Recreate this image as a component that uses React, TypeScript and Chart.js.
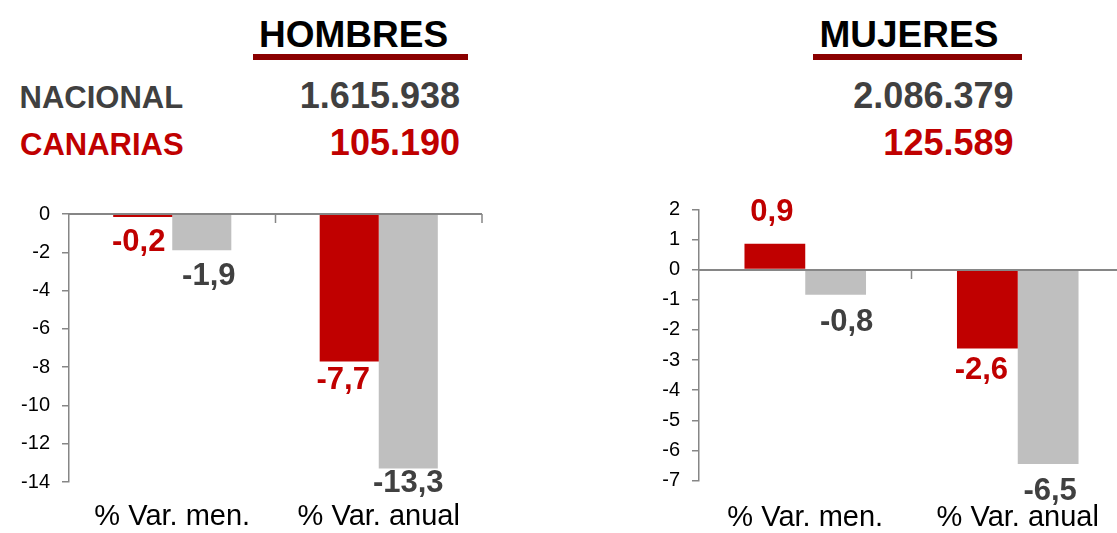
import React, { useEffect, useRef } from 'react';
import { Chart, registerables } from 'chart.js';

Chart.register(...registerables);

const FONT = '"Liberation Sans", Arial, Helvetica, sans-serif';
const RED = '#C00000';
const GRAY = '#BFBFBF';
const DARK = '#404040';
const AXIS = '#868686';
const UNDERLINE = '#8B0000';

// ---- data ----
const categories = ['% Var. men.', '% Var. anual'];
const panelTitles = ['HOMBRES', 'MUJERES'];
const rowLabels = ['NACIONAL', 'CANARIAS'];
const nacionalTotals = ['1.615.938', '2.086.379'];
const canariasTotals = ['105.190', '125.589'];
const hombresCanarias = [-0.16, -7.7];
const hombresNacional = [-1.9, -13.3];
const mujeresCanarias = [0.86, -2.62];
const mujeresNacional = [-0.83, -6.45];
const hombresTicks = [-14, 0, 2];
const mujeresTicks = [-7, 2, 1];

// label nudges [dx, dy] relative to bar end (styling only)
const hombresNudges = [
  [[-4, 25], [-6, 19]],
  [[7, 26], [0, 14.5]],
];
const mujeresNudges = [
  [[-3, -31], [-6, 22]],
  [[11, 28], [2, 27]],
];

const overlayPlugin = {
  id: 'overlay',
  afterDatasetsDraw(chart: any, _args: any, opts: any) {
    const { ctx, chartArea } = chart;
    const xs = chart.scales.x;
    const ys = chart.scales.y;
    const y0 = Math.round(ys.getPixelForValue(0));
    ctx.save();
    ctx.strokeStyle = AXIS;
    ctx.lineWidth = 2;
    ctx.beginPath();
    ctx.moveTo(chartArea.left, y0);
    ctx.lineTo(chartArea.right, y0);
    ctx.stroke();
    const n = chart.data.labels.length;
    ctx.lineWidth = 1.5;
    ctx.beginPath();
    const w = xs.getPixelForValue(1) - xs.getPixelForValue(0);
    for (let i = 0; i < n; i++) {
      const px = xs.getPixelForValue(i) + w / 2;
      ctx.moveTo(px, y0);
      ctx.lineTo(px, y0 + 9);
    }
    ctx.stroke();

    ctx.font = `bold 31px ${FONT}`;
    ctx.textAlign = 'center';
    ctx.textBaseline = 'middle';
    chart.data.datasets.forEach((ds: any, di: number) => {
      const meta = chart.getDatasetMeta(di);
      meta.data.forEach((bar: any, i: number) => {
        const v = ds.data[i] as number;
        const [dx, dy] = opts.nudges[di][i];
        ctx.fillStyle = opts.colors[di];
        ctx.fillText(v.toFixed(1).replace('.', ','), bar.x + dx, bar.y + dy);
      });
    });
    ctx.restore();
  },
};

type PanelProps = {
  left: number;
  top: number;
  width: number;
  height: number;
  yAxisWidth: number;
  padTop: number;
  padRight: number;
  xAxisHeight: number;
  xTickPadding: number;
  ticks: number[];
  canarias: number[];
  nacional: number[];
  nudges: number[][][];
};

function BarPanel(p: PanelProps) {
  const ref = useRef<HTMLCanvasElement | null>(null);
  useEffect(() => {
    if (!ref.current) return;
    const [min, max, step] = p.ticks;
    const chart = new Chart(ref.current, {
      type: 'bar',
      data: {
        labels: categories,
        datasets: [
          {
            data: p.canarias,
            backgroundColor: RED,
            borderWidth: 0,
            categoryPercentage: 0.572,
            barPercentage: 1,
          },
          {
            data: p.nacional,
            backgroundColor: GRAY,
            borderWidth: 0,
            categoryPercentage: 0.572,
            barPercentage: 1,
          },
        ],
      },
      options: {
        animation: false,
        responsive: false,
        maintainAspectRatio: false,
        devicePixelRatio: 1,
        layout: { padding: { left: 0, right: p.padRight, top: p.padTop, bottom: 0 } },
        plugins: {
          legend: { display: false },
          tooltip: { enabled: false },
          overlay: { nudges: p.nudges, colors: [RED, DARK] },
        } as any,
        scales: {
          x: {
            type: 'category',
            grid: { display: false, drawTicks: false },
            border: { display: false },
            ticks: {
              font: { family: FONT, size: 29 },
              color: '#000',
              padding: p.xTickPadding,
              maxRotation: 0,
              autoSkip: false,
            },
            afterFit: (s: any) => {
              s.height = p.xAxisHeight;
              s.paddingLeft = 0;
              s.paddingRight = 0;
            },
          },
          y: {
            min,
            max,
            ticks: {
              stepSize: step,
              font: { family: FONT, size: 20 },
              color: '#000',
              padding: 12,
              callback: (v: any) => String(v),
            },
            grid: {
              display: true,
              drawOnChartArea: false,
              drawTicks: true,
              tickLength: 7,
              color: AXIS,
              lineWidth: 1.5,
            },
            border: { display: true, color: AXIS, width: 1.5 },
            afterFit: (s: any) => {
              s.width = p.yAxisWidth;
              s.paddingTop = 0;
              s.paddingBottom = 0;
            },
          },
        },
      } as any,
      plugins: [overlayPlugin],
    });
    return () => chart.destroy();
  }, []);
  return (
    <canvas
      ref={ref}
      width={p.width}
      height={p.height}
      style={{ position: 'absolute', left: p.left, top: p.top, width: p.width, height: p.height }}
    />
  );
}

function Txt(props: {
  text: string;
  left: number;
  top: number;
  size: number;
  color: string;
  bold?: boolean;
  width?: number;
  align?: 'left' | 'right' | 'center';
}) {
  return (
    <div
      style={{
        position: 'absolute',
        left: props.left,
        top: props.top,
        width: props.width,
        textAlign: props.align || 'left',
        fontFamily: FONT,
        fontSize: props.size,
        lineHeight: `${props.size}px`,
        fontWeight: props.bold ? 700 : 400,
        color: props.color,
        whiteSpace: 'nowrap',
      }}
    >
      {props.text}
    </div>
  );
}

export default function App() {
  useEffect(() => {
    document.body.style.margin = '0';
  }, []);
  return (
    <div
      style={{
        position: 'absolute',
        left: 0,
        top: 0,
        width: 1117,
        height: 533,
        overflow: 'hidden',
        background: '#fff',
      }}
    >
      {/* Titles */}
      <Txt text={panelTitles[0]} left={259} top={15.5} size={37} color="#000" bold />
      <div style={{ position: 'absolute', left: 253, top: 54, width: 215, height: 6, background: UNDERLINE }} />
      <Txt text={panelTitles[1]} left={819.5} top={15.5} size={37} color="#000" bold />
      <div style={{ position: 'absolute', left: 813, top: 54, width: 209, height: 6, background: UNDERLINE }} />

      {/* Row labels */}
      <Txt text={rowLabels[0]} left={19.5} top={81.8} size={31} color={DARK} bold />
      <Txt text={rowLabels[1]} left={20} top={128.8} size={31} color={RED} bold />

      {/* Totals */}
      <Txt text={nacionalTotals[0]} left={0} width={460} align="right" top={77.5} size={36} color={DARK} bold />
      <Txt text={canariasTotals[0]} left={0} width={460} align="right" top={124.5} size={36} color={RED} bold />
      <Txt text={nacionalTotals[1]} left={600} width={413.5} align="right" top={77.5} size={36} color={DARK} bold />
      <Txt text={canariasTotals[1]} left={600} width={413.5} align="right" top={124.5} size={36} color={RED} bold />

      <BarPanel
        left={0}
        top={190}
        width={560}
        height={343}
        yAxisWidth={69}
        padTop={24}
        padRight={78}
        xAxisHeight={51}
        xTickPadding={18}
        ticks={hombresTicks}
        canarias={hombresCanarias}
        nacional={hombresNacional}
        nudges={hombresNudges}
      />
      <BarPanel
        left={580}
        top={190}
        width={550}
        height={343}
        yAxisWidth={119}
        padTop={19.3}
        padRight={6}
        xAxisHeight={52.3}
        xTickPadding={19.5}
        ticks={mujeresTicks}
        canarias={mujeresCanarias}
        nacional={mujeresNacional}
        nudges={mujeresNudges}
      />
    </div>
  );
}
